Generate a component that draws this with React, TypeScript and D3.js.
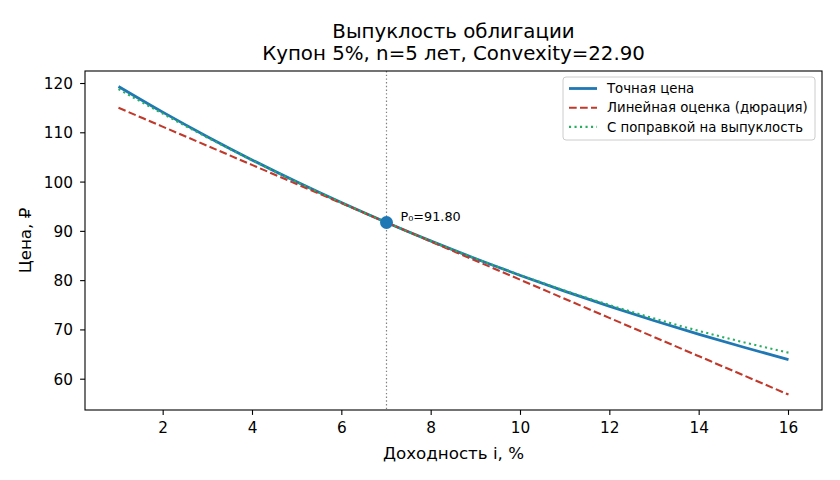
import React from "react";
import * as d3 from "d3";

// доходность, %
const yields = [1, 2, 3, 4, 5, 6, 7, 8, 9, 10, 11, 12, 13, 14, 15, 16];
// точная цена облигации
const exactPrice = [119.41, 114.14, 109.16, 104.45, 100.0, 95.79, 91.8, 88.02, 84.44, 81.05, 77.83, 74.77, 71.86, 69.1, 66.48, 63.98];
// линейная оценка через дюрацию
const linearPrice = [115.08, 111.2, 107.32, 103.44, 99.56, 95.68, 91.8, 87.92, 84.04, 80.16, 76.28, 72.4, 68.52, 64.64, 60.76, 56.88];
// с поправкой на выпуклость
const convexPrice = [118.86, 113.83, 109.0, 104.39, 99.98, 95.79, 91.8, 88.03, 84.46, 81.11, 77.96, 75.03, 72.3, 69.79, 67.49, 65.39];

const xTicks = [2, 4, 6, 8, 10, 12, 14, 16];
const yTicks = [60, 70, 80, 90, 100, 110, 120];
const baseYield = 7;
const basePrice = 91.8;

const W = 840;
const H = 480;
const margin = { left: 85, right: 18, top: 71, bottom: 70 };
const font = "DejaVu Sans, sans-serif";

export default function App() {
  const w = W - margin.left - margin.right;
  const h = H - margin.top - margin.bottom;

  const x = d3.scaleLinear().domain([0.25, 16.75]).range([0, w]);
  const y = d3.scaleLinear().domain([53.75, 122.54]).range([h, 0]);

  const line = (vals: number[]) =>
    d3.line<number>()
      .x((_, i) => x(yields[i]))
      .y(d => y(d))
      .curve(d3.curveMonotoneX)(vals) as string;

  const legendItems = [
    { label: "Точная цена", color: "#1f77b4", width: 2.8, dash: "" },
    { label: "Линейная оценка (дюрация)", color: "#c0392b", width: 2.1, dash: "7.7,3.3" },
    { label: "С поправкой на выпуклость", color: "#27ae60", width: 2.1, dash: "2.1,3.4" },
  ];

  return (
    <svg width={W} height={H} style={{ position: "absolute", left: 0, top: 0, background: "#fff" }}>
      <rect width={W} height={H} fill="#fff" />
      <text x={margin.left + w / 2} y={38} textAnchor="middle" fontFamily={font} fontSize={19.8}>
        Выпуклость облигации
      </text>
      <text x={margin.left + w / 2} y={60} textAnchor="middle" fontFamily={font} fontSize={19.8}>
        Купон 5%, n=5 лет, Convexity=22.90
      </text>
      <g transform={`translate(${margin.left},${margin.top})`}>
        <line x1={x(baseYield)} x2={x(baseYield)} y1={0} y2={h} stroke="gray" strokeWidth={1.2} strokeDasharray="1.4,2.3" />
        <path d={line(exactPrice)} fill="none" stroke="#1f77b4" strokeWidth={2.8} />
        <path d={line(linearPrice)} fill="none" stroke="#c0392b" strokeWidth={2.1} strokeDasharray="7.7,3.3" />
        <path d={line(convexPrice)} fill="none" stroke="#27ae60" strokeWidth={2.1} strokeDasharray="2.1,3.4" />
        <circle cx={x(baseYield)} cy={y(basePrice)} r={6.5} fill="#1f77b4" />
        <text x={x(baseYield) + 14} y={y(basePrice) - 1} fontFamily={font} fontSize={12.8}>
          P₀=91.80
        </text>

        <rect x={0} y={0} width={w} height={h} fill="none" stroke="#000" strokeWidth={1.1} />
        {xTicks.map(t => (
          <g key={t} transform={`translate(${x(t)},${h})`}>
            <line y2={4.9} stroke="#000" strokeWidth={1.1} />
            <text y={23} textAnchor="middle" fontFamily={font} fontSize={15.3}>{t}</text>
          </g>
        ))}
        {yTicks.map(t => (
          <g key={t} transform={`translate(0,${y(t)})`}>
            <line x2={-4.9} stroke="#000" strokeWidth={1.1} />
            <text x={-12} dy="0.36em" textAnchor="end" fontFamily={font} fontSize={15.3}>{t}</text>
          </g>
        ))}

        <g transform={`translate(${w - 259},6)`}>
          <rect width={252} height={63} rx={3} fill="#fff" fillOpacity={0.8} stroke="#ccc" strokeWidth={1} />
          {legendItems.map((d, i) => (
            <g key={d.label} transform={`translate(6,${11.5 + i * 19.2})`}>
              <line x1={0} x2={28} stroke={d.color} strokeWidth={d.width} strokeDasharray={d.dash} />
              <text x={38} dy="0.36em" fontFamily={font} fontSize={13.3}>{d.label}</text>
            </g>
          ))}
        </g>
      </g>
      <text x={margin.left + w / 2} y={459} textAnchor="middle" fontFamily={font} fontSize={16.7}>
        Доходность i, %
      </text>
      <text transform={`translate(31,${margin.top + h / 2}) rotate(-90)`} textAnchor="middle" fontFamily={font} fontSize={16.7}>
        Цена, ₽
      </text>
    </svg>
  );
}
